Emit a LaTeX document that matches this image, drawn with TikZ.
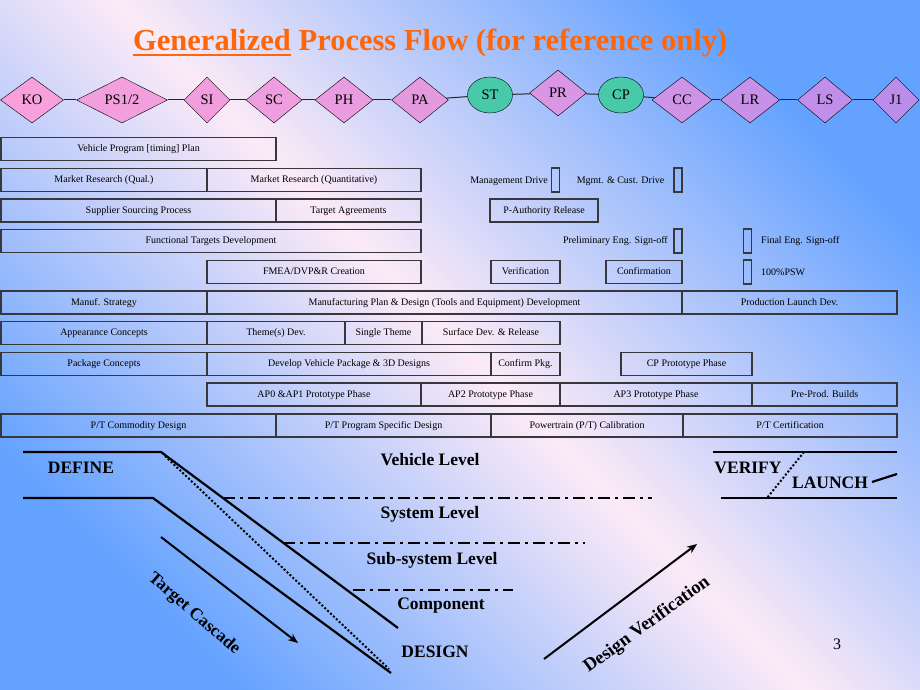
\documentclass[tikz,border=0pt]{standalone}
\usepackage{fontspec}
\setmainfont{Liberation Serif}
\usetikzlibrary{shapes.geometric,positioning,arrows.meta}

\definecolor{bgBlue}{RGB}{100,162,255}
\definecolor{bgPink}{RGB}{252,234,247}
\definecolor{msPink}{RGB}{247,160,220}
\definecolor{msLilac}{RGB}{184,140,236}
\definecolor{msGreen}{RGB}{72,201,170}
\definecolor{titleOrange}{RGB}{255,102,10}
\definecolor{boxLine}{RGB}{55,55,60}

\tikzset{
  milestone/.style={diamond,draw,inner sep=0pt,minimum height=46pt,font=\fontsize{14.5}{16}\selectfont},
  gate/.style={ellipse,draw,fill=msGreen,inner sep=0pt,minimum width=45pt,minimum height=36pt,font=\fontsize{14.5}{16}\selectfont},
  pbox/.style={draw=boxLine,line width=1.2pt,minimum height=23pt,inner sep=0pt,text height=6.5pt,text depth=1.5pt,font=\fontsize{10}{12}\selectfont},
  signbox/.style={draw=boxLine,line width=1.2pt,minimum width=8pt,minimum height=24pt,inner sep=0pt},
  note/.style={inner sep=0pt,font=\fontsize{10}{12}\selectfont},
  level/.style={inner sep=0pt,font=\fontsize{17.5}{20}\selectfont\bfseries},
  titlestyle/.style={inner sep=0pt,text=titleOrange,font=\fontsize{30.5}{34}\selectfont\bfseries},
  cascade/.style={line width=2.2pt},
  levelsep/.style={line width=2pt,dash pattern=on 12pt off 5pt on 3pt off 5pt},
}

\begin{document}
\begin{tikzpicture}[x=1pt,y=-1pt]
  \useasboundingbox (0,0) rectangle (920,690);
  \shade[left color=bgBlue,right color=bgBlue,middle color=bgPink,shading angle=135] (0,0) rectangle (920,690);

  % title
  \node[titlestyle,anchor=base west] (titleA) at (133,51) {Generalized};
  \node[titlestyle,anchor=base west] (titleB) at ([xshift=7.5pt]titleA.base east) {Process Flow (for reference only)};
  \draw[titleOrange,line width=2pt] ([yshift=-4.5pt]titleA.base west) -- ([yshift=-4.5pt]titleA.base east);

  % milestones
  \foreach \name/\x/\y/\w/\mix/\text in {KO/32/100/63/100/KO, PS/122/100/91/95/{PS1/2}, SI/207/100/46/90/SI,
      SC/274/100/56/85/SC, PH/344/100/58/78/PH, PA/420/100/57/72/PA, PR/558/93/57/52/PR,
      CC/682/100/60/35/CC, LR/750/100/59/25/LR, LS/825/100/55/15/LS, J1/896/100/46/5/J1}
    \node[milestone,minimum width=\w pt,fill=msPink!\mix!msLilac] (\name) at (\x,\y) {\text};
  \node[gate] (ST) at (490,95) {ST};
  \node[gate] (CP) at (621,95) {CP};
  \foreach \from/\to in {KO/PS,PS/SI,SI/SC,SC/PH,PH/PA,PA/ST,ST/PR,PR/CP,CP/CC,CC/LR,LR/LS,LS/J1}
    { \draw[line width=1pt,black!85] (\from) -- (\to); }

  % process bars
  \foreach \name/\xa/\xb/\y/\text in {
      vpp/1/276/149/{Vehicle Program [timing] Plan},
      mrq/1/207/180/{Market Research (Qual.)}, mrn/207/421/180/{Market Research (Quantitative)},
      ssp/1/276/210.5/{Supplier Sourcing Process}, tag/276/421/210.5/{Target Agreements},
      par/490/598/210.5/{P-Authority Release},
      ftd/1/421/241/{Functional Targets Development},
      fmea/207/421/272/{FMEA/DVP\&R Creation}, ver/491/560/272/{Verification}, con/606/682/272/{Confirmation},
      mst/1/207/302.5/{Manuf. Strategy}, mpd/207/682/302.5/{Manufacturing Plan \& Design (Tools and Equipment) Development},
      pld/682/897/302.5/{Production Launch Dev.},
      app/1/207/333/{Appearance Concepts}, thd/207/345/333/{Theme(s) Dev.}, sth/345/422/333/{Single Theme},
      sdr/422/560/333/{Surface Dev. \& Release},
      pkc/1/207/364/{Package Concepts}, dvp/207/491/364/{Develop Vehicle Package \& 3D Designs},
      cpk/491/560/364/{Confirm Pkg.}, cpp/621/752/364/{CP Prototype Phase},
      apA/207/421/394.5/{AP0 \&AP1 Prototype Phase}, apB/421/560/394.5/{AP2 Prototype Phase},
      apC/560/752/394.5/{AP3 Prototype Phase}, ppb/752/897/394.5/{Pre-Prod. Builds},
      ptc/1/276/425.5/{P/T Commodity Design}, pps/276/491/425.5/{P/T Program Specific Design},
      ptcal/491/683/425.5/{Powertrain (P/T) Calibration}, ptcert/683/897/425.5/{P/T Certification}}
    \node[pbox,minimum width={(\xb-\xa)*1pt}] (\name) at ({(\xa+\xb)/2},\y) {\text};

  % sign-off markers
  \foreach \name/\x/\y in {mdA/555.5/180, mdB/678/180, esA/678/241, esB/747.5/241, psw/747.5/272}
    \node[signbox] (\name) at (\x,\y) {};
  \node[note,anchor=east] (mgmt) at (548,181) {Management Drive};
  \node[note] (cust) at (620.5,181) {Mgmt. \& Cust. Drive};
  \node[note,anchor=east] (pre) at (668,241) {Preliminary Eng. Sign-off};
  \node[note,anchor=west] (fin) at (761,241) {Final Eng. Sign-off};
  \node[note,anchor=west] (pswtext) at (761,272) {100\%PSW};

  % V-shape
  \draw[cascade] (23,452) -- (161,452) -- (398,628);
  \draw[cascade] (23,498) -- (153,498) -- (391,673);
  \draw[line width=2pt,dotted] (165,456) -- (389,669);
  \draw[levelsep] (223,498) -- (652,498);
  \draw[levelsep] (283,543) -- (585,543);
  \draw[levelsep] (353,590) -- (513,590);
  \draw[cascade] (713,452) -- (897,452);
  \draw[cascade] (721,498) -- (897,498);
  \draw[line width=2pt,dotted] (804,452) -- (767,498);
  \draw[cascade] (872,482) -- (897,474);

  \node[level] (define) at (81,468) {DEFINE};
  \node[level] (vehicle) at (430,460) {Vehicle Level};
  \node[level] (system) at (430,514) {System Level};
  \node[level] (subsys) at (432,560) {Sub-system Level};
  \node[level] (component) at (441,606) {Component};
  \node[level] (design) at (435,652) {DESIGN};
  \node[level] (verify) at (748,468) {VERIFY};
  \node[level] (launch) at (830,483) {LAUNCH};

  \coordinate (tcTail) at (161,537);
  \coordinate (tcHead) at (298,643);
  \coordinate (dvTail) at (544,659);
  \coordinate (dvHead) at (697,544);
  \draw[line width=2pt,-{Stealth[length=10pt,width=8pt]}] (tcTail) -- (tcHead);
  \draw[line width=2pt,-{Stealth[length=10pt,width=8pt]}] (dvTail) -- (dvHead);
  \node[level,rotate=-41] (tcasc) at (194,614) {Target Cascade};
  \node[level,rotate=36,font=\fontsize{18.5}{21}\selectfont\bfseries] (dver) at (647,625) {Design Verification};

  \node[font=\fontsize{16}{18}\selectfont] (pgnum) at (837,644) {3};
\end{tikzpicture}
\end{document}
